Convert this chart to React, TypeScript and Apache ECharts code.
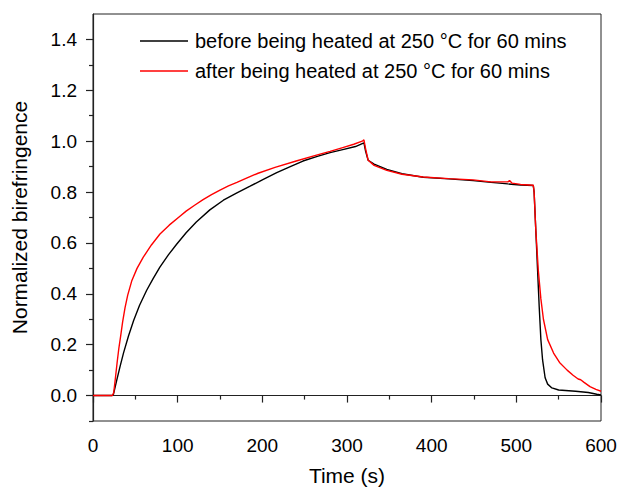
import React, { useEffect, useRef } from "react";
import * as echarts from "echarts";

const seriesNames = [
  "before being heated at 250 °C for 60 mins",
  "after being heated at 250 °C for 60 mins",
];

const beforeTime = [0, 22, 24, 28, 32, 36, 42, 48, 55, 63.4, 71, 79, 89, 99, 110, 122, 138, 154, 170, 185, 200, 217, 233, 248, 265, 280, 295, 310, 320, 322, 325, 332, 347, 365, 390, 420, 449, 470, 490, 505, 520, 521, 523, 525, 527, 529, 531, 534, 537, 542, 550, 570, 585, 595, 600];
const beforeValue = [0, 0, 0.003, 0.06, 0.115, 0.167, 0.235, 0.295, 0.355, 0.414, 0.46, 0.505, 0.553, 0.596, 0.64, 0.682, 0.73, 0.768, 0.797, 0.822, 0.848, 0.876, 0.9, 0.922, 0.94, 0.955, 0.967, 0.979, 0.993, 0.96, 0.925, 0.91, 0.889, 0.872, 0.858, 0.852, 0.845, 0.838, 0.832, 0.828, 0.826, 0.8, 0.65, 0.5, 0.35, 0.22, 0.14, 0.07, 0.045, 0.03, 0.022, 0.017, 0.012, 0.005, 0.002];

const afterTime = [0, 23, 24.5, 26.5, 28.5, 30.5, 32.7, 35, 37.8, 41, 45.7, 52, 59.4, 69, 79.1, 90, 102.7, 110, 120, 130, 140, 150, 160, 170, 182, 195, 215, 240, 265, 280, 295, 308, 318, 320, 322, 325, 332, 347, 365, 390, 420, 449, 470, 490, 492, 495, 505, 520, 521, 523, 526, 529, 532, 537, 544, 551, 560, 567, 573, 576, 580, 587, 594, 600];
const afterValue = [0, 0, 0.012, 0.07, 0.13, 0.185, 0.235, 0.29, 0.345, 0.395, 0.45, 0.5, 0.544, 0.592, 0.635, 0.67, 0.705, 0.725, 0.748, 0.77, 0.79, 0.808, 0.824, 0.838, 0.856, 0.874, 0.897, 0.922, 0.946, 0.96, 0.975, 0.988, 1.0, 1.005, 0.97, 0.925, 0.905, 0.885, 0.87, 0.859, 0.853, 0.848, 0.84, 0.84, 0.845, 0.835, 0.83, 0.827, 0.8, 0.65, 0.49, 0.38, 0.3, 0.22, 0.167, 0.13, 0.1, 0.08, 0.065, 0.062, 0.052, 0.035, 0.024, 0.017];

const yMajorTicks = [0, 0.2, 0.4, 0.6, 0.8, 1.0, 1.2, 1.4];
const yMinorTicks = [-0.1, 0.1, 0.3, 0.5, 0.7, 0.9, 1.1, 1.3];

const FONT = "'Liberation Sans', Arial, sans-serif";

export default function App() {
  const ref = useRef<HTMLDivElement>(null);
  useEffect(() => {
    if (!ref.current) return;
    const chart = echarts.init(ref.current, null, { renderer: "svg" });
    const zip = (t: number[], v: number[]) => t.map((x, i) => [x, v[i]]);
    chart.setOption({
      animation: false,
      backgroundColor: "#fff",
      textStyle: { fontFamily: FONT },
      grid: {
        left: 93,
        right: 30,
        top: 14,
        bottom: 69,
        show: true,
        borderColor: "#222",
        borderWidth: 1,
      },
      legend: {
        orient: "vertical",
        left: 140,
        top: 31,
        padding: 0,
        icon: "rect",
        itemWidth: 48,
        itemHeight: 1.5,
        itemGap: 10,
        textStyle: { fontFamily: FONT, fontSize: 20, color: "#000", padding: [0, 0, 0, 2] },
        data: seriesNames,
      },
      xAxis: {
        type: "value",
        min: 0,
        max: 600,
        interval: 100,
        name: "Time (s)",
        nameLocation: "middle",
        nameGap: 44,
        nameTextStyle: { fontFamily: FONT, fontSize: 21, color: "#000" },
        axisLine: { show: true, lineStyle: { color: "#222", width: 1.2 } },
        axisTick: { show: true, length: 7, lineStyle: { color: "#222", width: 1.2 } },
        minorTick: { show: true, splitNumber: 2, length: 4, lineStyle: { color: "#222", width: 1.2 } },
        axisLabel: { fontFamily: FONT, fontSize: 19, color: "#000", margin: 15 },
        splitLine: { show: false },
      },
      yAxis: [
        {
          type: "value",
          min: -0.1,
          max: 1.5,
          name: "Normalized birefringence",
          nameLocation: "middle",
          nameRotate: 90,
          nameGap: 63,
          nameTextStyle: { fontFamily: FONT, fontSize: 21, color: "#000" },
          axisLine: { show: true, lineStyle: { color: "#222", width: 1.2 } },
          axisTick: { show: true, length: 7, customValues: yMajorTicks, lineStyle: { color: "#222", width: 1.2 } },
          axisLabel: {
            fontFamily: FONT,
            fontSize: 19,
            color: "#000",
            margin: 16,
            customValues: yMajorTicks,
            formatter: (v: number) => v.toFixed(1),
          },
          splitLine: { show: false },
        },
        {
          type: "value",
          min: -0.1,
          max: 1.5,
          position: "left",
          axisLine: { show: false },
          axisTick: { show: true, length: 4, customValues: yMinorTicks, lineStyle: { color: "#222", width: 1.2 } },
          axisLabel: { show: false },
          splitLine: { show: false },
        },
      ],
      series: [
        {
          name: seriesNames[0],
          type: "line",
          data: zip(beforeTime, beforeValue),
          showSymbol: false,
          symbol: "none",
          lineStyle: { color: "#000", width: 1.4 },
          itemStyle: { color: "#000" },
          z: 2,
        },
        {
          name: seriesNames[1],
          type: "line",
          data: zip(afterTime, afterValue),
          showSymbol: false,
          symbol: "none",
          lineStyle: { color: "#ff0000", width: 1.4 },
          itemStyle: { color: "#ff0000" },
          z: 3,
        },
      ],
    });
    return () => chart.dispose();
  }, []);
  return (
    <div
      ref={ref}
      style={{ position: "absolute", left: 0, top: 0, width: 631, height: 491, background: "#fff" }}
    />
  );
}
